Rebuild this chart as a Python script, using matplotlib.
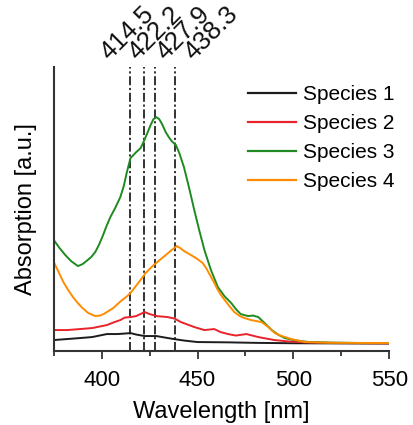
import matplotlib
matplotlib.use("Agg")
import matplotlib.pyplot as plt
from matplotlib.ticker import MultipleLocator
import matplotlib.transforms as mtransforms

plt.rcParams['font.family'] = ['Liberation Sans', 'DejaVu Sans']

# ---- data ----
wl_s3 = [375, 378, 381, 384, 387.6, 390, 392, 394.5, 396.6, 398.5, 400.5, 402.5, 404.5, 407,
         409.7, 411.5, 413, 415, 418, 420.3, 422, 423.8, 425.5, 427, 428.5, 430, 431.5, 433.4,
         435, 436.5, 438.7, 440.5, 442.9, 445.5, 448.3, 451, 453.6, 457, 460.6, 464, 467.6,
         470, 472.5, 476.4, 479, 481.7, 485, 488.7, 492, 495.5, 500, 508, 520, 535, 550]
abs_s3 = [1.11, 1.03, 0.96, 0.90, 0.85, 0.87, 0.90, 0.94, 0.99, 1.06, 1.15, 1.25, 1.34, 1.43,
          1.54, 1.65, 1.78, 1.93, 1.99, 2.03, 2.10, 2.18, 2.26, 2.32, 2.34, 2.32, 2.27, 2.19,
          2.14, 2.10, 2.06, 1.98, 1.84, 1.64, 1.41, 1.20, 1.01, 0.81, 0.64, 0.55, 0.48,
          0.42, 0.37, 0.35, 0.355, 0.34, 0.28, 0.21, 0.165, 0.13, 0.11, 0.09, 0.085, 0.08, 0.08]

wl_s4 = [375, 377.5, 380, 382.5, 385, 387.5, 390, 393, 396.6, 399, 401, 403.5, 406, 410, 413,
         415, 417, 419, 421, 422.9, 426, 429, 431.5, 434, 436.5, 439.2, 441, 443, 446.6, 450,
         452.7, 454.5, 456.5, 458.5, 460.6, 463, 465, 467, 469.2, 472, 474.5, 478, 483.4, 487,
         490.3, 494, 499, 506, 520, 550]
abs_s4 = [0.89, 0.79, 0.69, 0.61, 0.54, 0.48, 0.43, 0.38, 0.35, 0.355, 0.37, 0.40, 0.43, 0.50, 0.545,
          0.58, 0.63, 0.68, 0.73, 0.78, 0.84, 0.89, 0.93, 0.97, 1.01, 1.05, 1.03, 1.00, 0.96, 0.92,
          0.88, 0.83, 0.76, 0.69, 0.61, 0.54, 0.49, 0.44, 0.39, 0.35, 0.33, 0.31, 0.29, 0.24,
          0.18, 0.15, 0.12, 0.09, 0.083, 0.08]

wl_s2 = [375, 382, 388.7, 395, 402.7, 406, 409.7, 412, 415, 418, 422.4, 425, 428.5, 434.3, 438,
         441.3, 448.3, 453.6, 458.7, 462, 465.9, 470, 475.5, 481.7, 490, 498, 506, 520, 550]
abs_s2 = [0.21, 0.21, 0.22, 0.23, 0.26, 0.285, 0.31, 0.335, 0.34, 0.35, 0.39, 0.37, 0.35, 0.34, 0.325,
          0.29, 0.24, 0.21, 0.22, 0.19, 0.17, 0.155, 0.17, 0.14, 0.11, 0.095, 0.087, 0.08, 0.077]

wl_s1 = [375, 388.7, 395, 402.7, 408, 412, 415, 418, 422.4, 428.5, 433, 437.6, 443, 450, 465.9,
         480, 500, 550]
abs_s1 = [0.11, 0.13, 0.14, 0.17, 0.17, 0.175, 0.18, 0.165, 0.15, 0.15, 0.135, 0.12, 0.105, 0.09,
          0.087, 0.082, 0.078, 0.075]

series_names = ["Species 1", "Species 2", "Species 3", "Species 4"]
series_colors = ["#1c1c1c", "#e8232c", "#1f8a1f", "#ff8c00"]

peaks = [414.5, 422.2, 427.9, 438.3]
peak_labels = ["414.5", "422.2", "427.9", "438.3"]
peak_label_x = [404.0, 418.5, 433.0, 448.0]

xticks = [400, 450, 500, 550]

# ---- figure ----
fig = plt.figure(figsize=(4.14, 4.25), dpi=100)
ax = fig.add_axes([0.130, 0.174, 0.810, 0.668])

for wl, ab, name, col in zip([wl_s1, wl_s2, wl_s3, wl_s4], [abs_s1, abs_s2, abs_s3, abs_s4],
                             series_names, series_colors):
    ax.plot(wl, ab, color=col, lw=1.4, label=name, solid_joinstyle='round')

for p in peaks:
    ax.axvline(p, color="#222222", lw=1.3, ls=(0, (5, 1.5, 1.2, 1.5)), zorder=1)

ax.set_xlim(375, 550)
ax.set_ylim(0, 2.84)

trans = mtransforms.blended_transform_factory(ax.transData, ax.transAxes)
for lx, lab in zip(peak_label_x, peak_labels):
    ax.text(lx, 1.022, lab, transform=trans, rotation=45, rotation_mode='anchor',
            ha='left', va='baseline', fontsize=18.5, color="#111111", clip_on=False)

for s in ['top', 'right']:
    ax.spines[s].set_visible(False)
for s in ['left', 'bottom']:
    ax.spines[s].set_linewidth(1.5)
    ax.spines[s].set_color("#333333")

ax.set_yticks([])
ax.set_xticks(xticks)
ax.xaxis.set_minor_locator(MultipleLocator(25))
ax.tick_params(axis='x', which='major', direction='out', length=6, width=1.3,
               labelsize=16, pad=8, color="#333333")
ax.tick_params(axis='x', which='minor', direction='out', length=3.5, width=1.3, color="#333333")

ax.set_xlabel("Wavelength [nm]", fontsize=17, labelpad=7)
ax.set_ylabel("Absorption [a.u.]", fontsize=17, labelpad=12)

leg = ax.legend(loc='upper left', bbox_to_anchor=(0.599, 0.800), bbox_transform=fig.transFigure,
                frameon=False, fontsize=15, borderpad=0, borderaxespad=0,
                handlelength=2.3, handletextpad=0.35, labelspacing=0.48)
for h in leg.get_lines():
    h.set_linewidth(1.6)

fig.savefig("out.png", dpi=100)
